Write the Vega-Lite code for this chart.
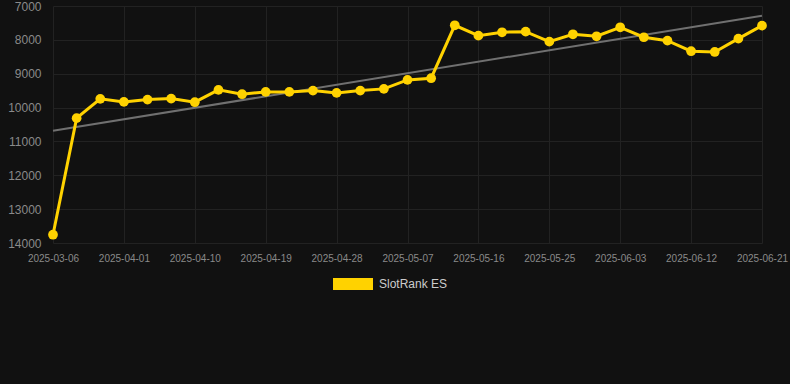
{
  "$schema": "https://vega.github.io/schema/vega-lite/v6.json",
  "autosize": "none",
  "width": 746,
  "height": 237,
  "padding": {"left": 44, "top": 6, "right": 0, "bottom": 141},
  "background": "#111111",
  "config": {
    "view": {"stroke": null},
    "font": "Liberation Sans",
    "axis": {"gridColor": "#222222", "gridWidth": 1, "domain": false, "ticks": false, "labelFont": "Liberation Sans", "labelColor": "#8a8a8a"}
  },
  "datasets": {
    "rank": [
      {"date": "2025-03-06", "rank": 13755, "series": "SlotRank ES"},
      {"date": "2025-03-26", "rank": 10313, "series": "SlotRank ES"},
      {"date": "2025-03-29", "rank": 9743, "series": "SlotRank ES"},
      {"date": "2025-04-01", "rank": 9832, "series": "SlotRank ES"},
      {"date": "2025-04-04", "rank": 9764, "series": "SlotRank ES"},
      {"date": "2025-04-07", "rank": 9735, "series": "SlotRank ES"},
      {"date": "2025-04-10", "rank": 9841, "series": "SlotRank ES"},
      {"date": "2025-04-13", "rank": 9478, "series": "SlotRank ES"},
      {"date": "2025-04-16", "rank": 9605, "series": "SlotRank ES"},
      {"date": "2025-04-19", "rank": 9537, "series": "SlotRank ES"},
      {"date": "2025-04-22", "rank": 9537, "series": "SlotRank ES"},
      {"date": "2025-04-25", "rank": 9499, "series": "SlotRank ES"},
      {"date": "2025-04-28", "rank": 9566, "series": "SlotRank ES"},
      {"date": "2025-05-01", "rank": 9499, "series": "SlotRank ES"},
      {"date": "2025-05-04", "rank": 9448, "series": "SlotRank ES"},
      {"date": "2025-05-07", "rank": 9183, "series": "SlotRank ES"},
      {"date": "2025-05-10", "rank": 9133, "series": "SlotRank ES"},
      {"date": "2025-05-13", "rank": 7569, "series": "SlotRank ES"},
      {"date": "2025-05-16", "rank": 7876, "series": "SlotRank ES"},
      {"date": "2025-05-19", "rank": 7776, "series": "SlotRank ES"},
      {"date": "2025-05-22", "rank": 7758, "series": "SlotRank ES"},
      {"date": "2025-05-25", "rank": 8053, "series": "SlotRank ES"},
      {"date": "2025-05-28", "rank": 7835, "series": "SlotRank ES"},
      {"date": "2025-05-31", "rank": 7894, "series": "SlotRank ES"},
      {"date": "2025-06-03", "rank": 7628, "series": "SlotRank ES"},
      {"date": "2025-06-06", "rank": 7923, "series": "SlotRank ES"},
      {"date": "2025-06-09", "rank": 8024, "series": "SlotRank ES"},
      {"date": "2025-06-12", "rank": 8336, "series": "SlotRank ES"},
      {"date": "2025-06-15", "rank": 8357, "series": "SlotRank ES"},
      {"date": "2025-06-18", "rank": 7965, "series": "SlotRank ES"},
      {"date": "2025-06-21", "rank": 7581, "series": "SlotRank ES"}
    ],
    "trend": [
      {"date": "2025-03-06", "rank": 10687},
      {"date": "2025-06-21", "rank": 7286}
    ]
  },
  "encoding": {
    "x": {
      "field": "date", "type": "ordinal", "sort": "ascending",
      "scale": {"type": "point", "range": [9, 718], "padding": 0},
      "axis": {
        "title": null, "labelAngle": 0, "labelFontSize": 10, "labelPadding": 10, "grid": true,
        "values": ["2025-03-06", "2025-04-01", "2025-04-10", "2025-04-19", "2025-04-28", "2025-05-07", "2025-05-16", "2025-05-25", "2025-06-03", "2025-06-12", "2025-06-21"]
      }
    },
    "y": {
      "field": "rank", "type": "quantitative",
      "scale": {"domain": [7000, 14000], "reverse": true, "nice": false, "zero": false},
      "axis": {"title": null, "format": "d", "labelFontSize": 12, "labelPadding": 3, "grid": true, "values": [7000, 8000, 9000, 10000, 11000, 12000, 13000, 14000]}
    }
  },
  "layer": [
    {
      "data": {"name": "trend"},
      "mark": {"type": "line", "color": "#707070", "strokeWidth": 2},
      "encoding": {}
    },
    {
      "data": {"name": "rank"},
      "mark": {"type": "line", "color": "#FFD200", "strokeWidth": 3},
      "encoding": {}
    },
    {
      "data": {"name": "rank"},
      "mark": {"type": "circle", "size": 95, "opacity": 1},
      "encoding": {
        "color": {
          "field": "series", "type": "nominal",
          "scale": {"range": ["#FFD200"]},
          "legend": {
            "title": null, "orient": "none", "legendX": 289, "legendY": 258, "padding": 0,
            "symbolType": "M-1,-0.3L1,-0.3L1,0.3L-1,0.3Z", "symbolSize": 1600, "symbolOpacity": 1,
            "symbolStrokeWidth": 0,
            "labelFont": "Liberation Sans", "labelFontSize": 12, "labelColor": "#cccccc", "labelOffset": 6
          }
        }
      }
    }
  ]
}
